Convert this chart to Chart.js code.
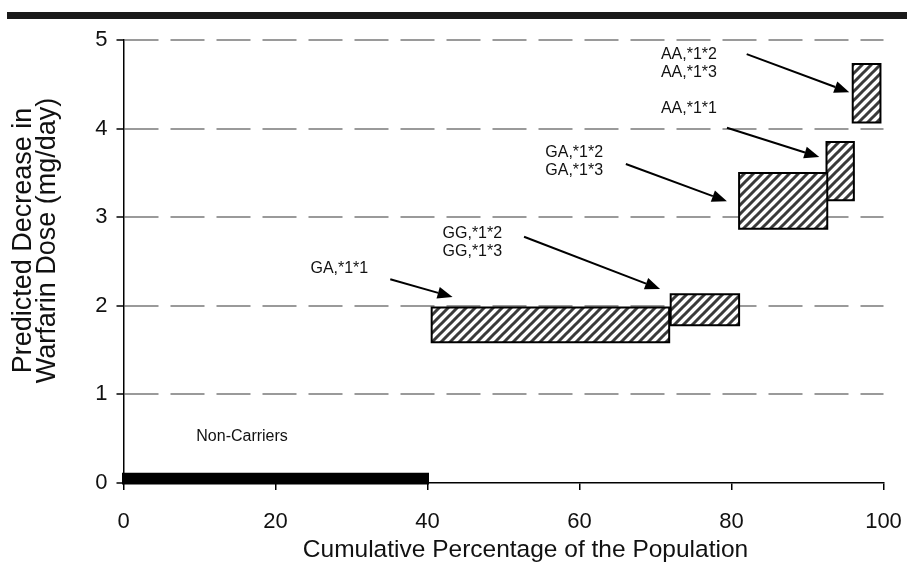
<!DOCTYPE html>
<html><head><meta charset="utf-8">
<script src="https://cdn.jsdelivr.net/npm/chart.js@4"></script>
<style>
html,body{margin:0;padding:0;background:#fff;}
#wrap{position:relative;width:907px;height:565px;overflow:hidden;}
#topbar{position:absolute;left:7px;top:12px;width:900px;height:7px;background:#1a1a1a;}
canvas{display:block;}
</style></head>
<body><div id="wrap"><canvas id="c" width="907" height="565"></canvas><div id="topbar"></div></div>
<script>
// ---- data ----
const groupLabels = ['GA,*1*1', 'GG,*1*2 / GG,*1*3', 'GA,*1*2 / GA,*1*3', 'AA,*1*1', 'AA,*1*2 / AA,*1*3'];
const cumStart = [40.55, 72.0, 81.0, 92.5, 95.95];
const cumEnd   = [71.8, 81.0, 92.6, 96.1, 99.6];
const doseLow  = [1.59, 1.78, 2.87, 3.19, 4.07];
const doseHigh = [1.98, 2.13, 3.50, 3.85, 4.73];
const nonCarrierRange = [0, 40];
const nonCarrierDose = [0, 0.1];
const xTicks = [0, 20, 40, 60, 80, 100];
const yTicks = [0, 1, 2, 3, 4, 5];
const xTitle = 'Cumulative Percentage of the Population';
const yTitle = ['Predicted Decrease in', 'Warfarin Dose (mg/day)'];
const noteLines = [['GA,*1*1'], ['GG,*1*2', 'GG,*1*3'], ['GA,*1*2', 'GA,*1*3'], ['AA,*1*1'], ['AA,*1*2', 'AA,*1*3'], ['Non-Carriers']];
const noteX = [28.4, 45.9, 59.3, 74.4, 74.4, 15.6];
const noteY = [2.42, 2.82, 3.73, 4.23, 4.84, 0.52];
const arrowFromX = [35.1, 52.7, 66.1, 79.4, 82.0];
const arrowFromY = [2.30, 2.78, 3.60, 4.01, 4.84];
const arrowToX   = [43.3, 70.6, 79.4, 91.55, 95.5];
const arrowToY   = [2.10, 2.19, 3.18, 3.68, 4.41];

// ---- styles ----
const FONT = '"Liberation Sans", Arial, Helvetica, sans-serif';
function makeHatch() {
  const s = 9, c = document.createElement('canvas');
  c.width = s; c.height = s;
  const g = c.getContext('2d');
  g.fillStyle = '#fff'; g.fillRect(0, 0, s, s);
  g.strokeStyle = '#3a3a3a'; g.lineWidth = 3;
  g.beginPath();
  g.moveTo(-1, s + 1); g.lineTo(s + 1, -1);
  g.moveTo(-2, 2); g.lineTo(2, -2);
  g.moveTo(s - 2, s + 2); g.lineTo(s + 2, s - 2);
  g.stroke();
  return g.createPattern(c, 'repeat');
}
const hatch = makeHatch();

function rect(x0, x1, lo, hi) {
  return [{x: x0, y: lo}, {x: x1, y: lo}, {x: x1, y: hi}, {x: x0, y: hi}, {x: x0, y: lo}];
}

const datasets = cumStart.map((x0, i) => ({
  label: groupLabels[i],
  data: rect(x0, cumEnd[i], doseLow[i], doseHigh[i]),
  showLine: true, fill: 'shape', backgroundColor: hatch,
  borderColor: '#000', borderWidth: 2, borderJoinStyle: 'miter', borderCapStyle: 'square',
  pointRadius: 0, tension: 0
}));
datasets.push({
  label: 'Non-Carriers',
  data: rect(nonCarrierRange[0], nonCarrierRange[1], nonCarrierDose[0], nonCarrierDose[1]),
  showLine: true, fill: 'shape', backgroundColor: '#000',
  borderColor: '#000', borderWidth: 3, borderJoinStyle: 'miter', borderCapStyle: 'square',
  pointRadius: 0, tension: 0, clip: 4
});

const notesPlugin = {
  id: 'notes',
  afterDatasetsDraw(chart) {
    const {ctx, chartArea} = chart, xs = chart.scales.x, ys = chart.scales.y;
    ctx.save();
    ctx.strokeStyle = '#000'; ctx.fillStyle = '#000'; ctx.lineWidth = 2;
    for (let i = 0; i < arrowFromX.length; i++) {
      const x1 = xs.getPixelForValue(arrowFromX[i]), y1 = ys.getPixelForValue(arrowFromY[i]);
      const x2 = xs.getPixelForValue(arrowToX[i]), y2 = ys.getPixelForValue(arrowToY[i]);
      const a = Math.atan2(y2 - y1, x2 - x1), L = 15, W = 6;
      const bx = x2 - L * Math.cos(a), by = y2 - L * Math.sin(a);
      ctx.beginPath(); ctx.moveTo(x1, y1); ctx.lineTo(bx, by); ctx.stroke();
      ctx.beginPath(); ctx.moveTo(x2, y2);
      ctx.lineTo(bx + W * Math.sin(a), by - W * Math.cos(a));
      ctx.lineTo(bx - W * Math.sin(a), by + W * Math.cos(a));
      ctx.closePath(); ctx.fill();
    }
    ctx.fillStyle = '#111';
    ctx.font = '16px ' + FONT;
    ctx.textAlign = 'center'; ctx.textBaseline = 'middle';
    noteLines.forEach((lines, i) => lines.forEach((t, j) => {
      ctx.fillText(t, xs.getPixelForValue(noteX[i]), ys.getPixelForValue(noteY[i]) + j * 18.5);
    }));
    // axis titles
    ctx.font = '24.5px ' + FONT;
    ctx.fillText(xTitle, (chartArea.left + chartArea.right) / 2 + 22, 550);
    ctx.font = '27px ' + FONT;
    const cy = (chartArea.top + chartArea.bottom) / 2 - 21;
    yTitle.forEach((t, j) => {
      ctx.save(); ctx.translate(24 + j * 23.5, cy); ctx.rotate(-Math.PI / 2);
      ctx.fillText(t, 0, 0); ctx.restore();
    });
    ctx.restore();
  }
};

new Chart(document.getElementById('c'), {
  type: 'scatter',
  data: {datasets},
  options: {
    responsive: false, animation: false,
    layout: {padding: {top: 40, right: 23.5, bottom: 0, left: 0}},
    plugins: {legend: {display: false}, tooltip: {enabled: false}},
    scales: {
      x: {
        type: 'linear', min: 0, max: 100,
        afterBuildTicks: s => { s.ticks = xTicks.map(v => ({value: v})); },
        afterFit: s => { s.height = 82; s.paddingLeft = 0; s.paddingRight = 0; },
        grid: {drawOnChartArea: false, drawTicks: true, tickLength: 7, color: '#000', lineWidth: 1.5},
        border: {color: '#000', width: 1.5},
        ticks: {font: {family: FONT, size: 22}, color: '#111', padding: 19}
      },
      y: {
        type: 'linear', min: 0, max: 5,
        afterBuildTicks: s => { s.ticks = yTicks.map(v => ({value: v})); },
        afterFit: s => { s.width = 123.5; s.paddingTop = 0; s.paddingBottom = 0; },
        grid: {color: c => (c.tick && c.tick.value === 0) ? 'rgba(0,0,0,0)' : '#9a9a9a', lineWidth: 2,
               drawTicks: true, tickLength: 7, tickColor: '#000', tickWidth: 1.5, tickBorderDash: []},
        border: {color: '#000', width: 1.5, dash: [34, 12]},
        ticks: {font: {family: FONT, size: 22}, color: '#111', padding: 9}
      }
    }
  },
  plugins: [notesPlugin]
});
</script>
</body></html>
